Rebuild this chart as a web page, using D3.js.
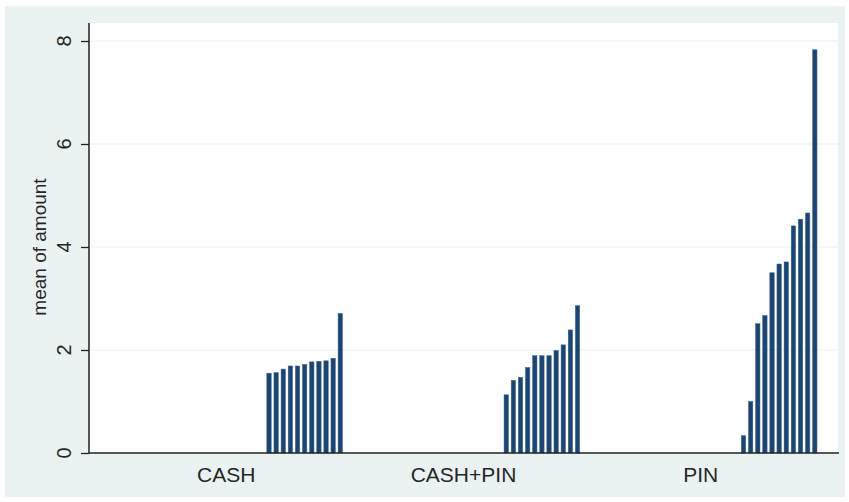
<!DOCTYPE html>
<html>
<head>
<meta charset="utf-8">
<script src="https://cdn.jsdelivr.net/npm/d3@7"></script>
<style>
  body { margin: 0; background: #ffffff; }
  text { font-family: "Liberation Sans", Arial, sans-serif; fill: #262626; }
</style>
</head>
<body>
<div id="chart"></div>
<script>
// mean of amount by payment type, 33 inner slots per group (empty ones are null)
var categories = ["CASH", "CASH+PIN", "PIN"];
var slotCount = 33;
var cashValues = [1.55, 1.56, 1.63, 1.69, 1.69, 1.72, 1.77, 1.78, 1.79, 1.84, 2.71];
var cashPinValues = [1.13, 1.41, 1.47, 1.66, 1.89, 1.89, 1.89, 1.99, 2.10, 2.39, 2.86];
var pinValues = [0.335, 1.0, 2.51, 2.67, 3.50, 3.67, 3.71, 4.41, 4.54, 4.66, 7.83];
var yTicks = [0, 2, 4, 6, 8];
var yTitle = "mean of amount";

var W = 849, H = 502;
var plot = { left: 89, right: 838, top: 23, bottom: 453 };

// pad leading empty slots with null so the bars sit at the end of each group
function toSlots(vals) {
    var out = [];
    for (var i = 0; i < slotCount - vals.length; i++) out.push(null);
    return out.concat(vals);
}
var groups = [
    { key: categories[0], values: toSlots(cashValues) },
    { key: categories[1], values: toSlots(cashPinValues) },
    { key: categories[2], values: toSlots(pinValues) }
];

var svg = d3.select("#chart")
    .append("svg")
    .attr("width", W)
    .attr("height", H);

// graph region
svg.append("rect")
    .attr("x", 5).attr("y", 6)
    .attr("width", 840).attr("height", 491)
    .attr("fill", "#eaf2f3");

// plot region
svg.append("rect")
    .attr("x", plot.left).attr("y", plot.top)
    .attr("width", plot.right - plot.left).attr("height", plot.bottom - plot.top)
    .attr("fill", "#ffffff");

var x = d3.scaleBand()
    .domain(categories)
    .range([plot.left + 21, plot.right - 21])
    .paddingInner(0.02);

var xInner = d3.scaleBand()
    .domain(d3.range(slotCount))
    .range([0, x.bandwidth()])
    .paddingInner(0.38);

var y = d3.scaleLinear()
    .domain([0, 8])
    .range([453, 41]);

// grid lines
svg.selectAll(".grid")
    .data(yTicks.filter(d => d > 0))
    .join("line")
    .attr("class", "grid")
    .attr("x1", plot.left).attr("x2", plot.right)
    .attr("y1", d => y(d)).attr("y2", d => y(d))
    .attr("stroke", "#eaf2f3")
    .attr("stroke-width", 1.2);

// bars
svg.selectAll("g.group")
    .data(groups)
    .join("g")
    .attr("class", "group")
    .attr("transform", d => "translate(" + x(d.key) + ",0)")
    .selectAll("rect")
    .data(d => d.values.map((v, i) => ({ i: i, v: v })).filter(e => e.v != null))
    .join("rect")
    .attr("x", d => xInner(d.i))
    .attr("width", xInner.bandwidth())
    .attr("y", d => y(d.v))
    .attr("height", d => y(0) - y(d.v))
    .attr("fill", "#1c4670")
    .attr("stroke", "#3d6a94")
    .attr("stroke-width", 0.5);

// y axis
var yAxis = svg.append("g")
    .attr("transform", "translate(" + plot.left + ",0)")
    .call(d3.axisLeft(y).tickValues(yTicks).tickSize(8).tickFormat(""));
yAxis.select(".domain")
    .attr("d", "M0," + plot.top + "V" + y(0))
    .attr("stroke", "#222")
    .attr("stroke-width", 1.5);
yAxis.selectAll(".tick line").attr("stroke", "#222").attr("stroke-width", 1.3);

svg.selectAll(".ylab")
    .data(yTicks)
    .join("text")
    .attr("class", "ylab")
    .attr("transform", d => "translate(71," + y(d) + ") rotate(-90)")
    .attr("text-anchor", "middle")
    .style("font-size", "20px")
    .text(d => d);

svg.append("text")
    .attr("transform", "translate(46," + (y(0) + y(8)) / 2 + ") rotate(-90)")
    .attr("text-anchor", "middle")
    .style("font-size", "19px")
    .text(yTitle);

// x axis baseline
svg.append("line")
    .attr("x1", plot.left).attr("x2", plot.right + 1)
    .attr("y1", y(0)).attr("y2", y(0))
    .attr("stroke", "#222")
    .attr("stroke-width", 1.5);

svg.selectAll(".xlab")
    .data(categories)
    .join("text")
    .attr("class", "xlab")
    .attr("x", d => x(d) + x.bandwidth() / 2)
    .attr("y", 482)
    .attr("text-anchor", "middle")
    .style("font-size", "21px")
    .text(d => d);
</script>
</body>
</html>
